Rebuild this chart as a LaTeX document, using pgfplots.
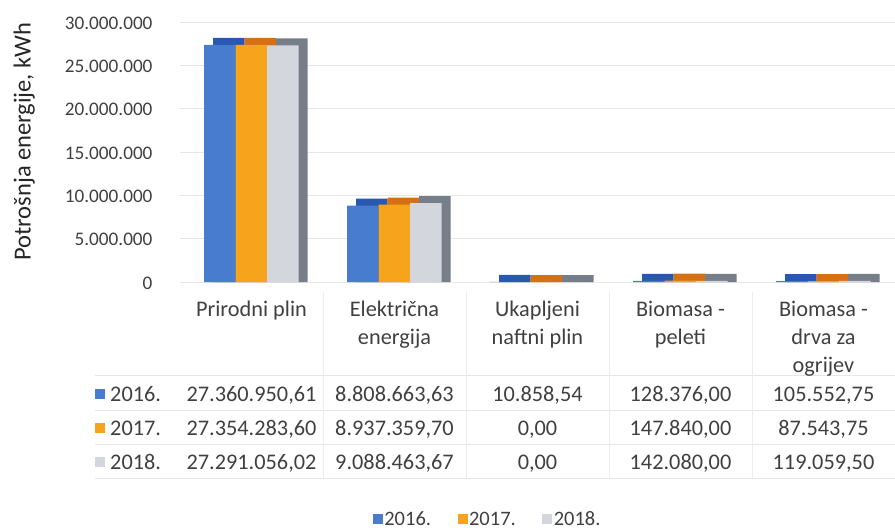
\documentclass[border=0pt]{standalone}
\usepackage{pgfplots}
\pgfplotsset{compat=1.18}
\usepackage{pgfplotstable}
\usepackage{fontspec}
\setmainfont{Carlito}
\definecolor{txt}{RGB}{64,64,64}
\definecolor{c16}{RGB}{72,124,206}
\definecolor{t16}{RGB}{40,88,176}
\definecolor{c17}{RGB}{246,164,28}
\definecolor{t17}{RGB}{214,112,20}
\definecolor{c18}{RGB}{212,214,222}
\definecolor{t18}{RGB}{118,126,138}
\definecolor{gridc}{RGB}{230,230,230}

\pgfplotstableread{
x y16 y17 y18
0 27360950.61 27354283.60 27291056.02
1 8808663.63 8937359.70 9088463.67
2 10858.54 0 0
3 128376.00 147840.00 142080.00
4 105552.75 87543.75 119059.50
}\data

\newcommand{\tf}{\fontsize{22.3}{26}\selectfont\color{txt}}
\begin{document}
\begin{tikzpicture}
\useasboundingbox (-180pt,-248pt) rectangle (715pt,282pt);
\begin{axis}[
  at={(0pt,0pt)}, anchor=south west, scale only axis,
  width=715pt, height=260pt,
  xmin=-0.5, xmax=4.5, ymin=0, ymax=30000000,
  ybar, bar width=31.5pt,
  clip=false,
  scaled y ticks=false,
  axis line style={draw=none},
  tick style={draw=none},
  xtick=\empty,
  ytick={0,5000000,10000000,15000000,20000000,25000000,30000000},
  yticklabels={0,5.000.000,10.000.000,15.000.000,20.000.000,25.000.000,30.000.000},
  yticklabel style={font=\fontsize{19.2}{22}\selectfont\color{txt}, anchor=east, xshift=-24pt, yshift=-1pt},
  ymajorgrids, grid style={gridc, line width=0.6pt},
  ylabel={Potrošnja energije, kWh},
  every axis y label/.style={at={(axis description cs:-0.218,0.54)}, rotate=90, anchor=center, font=\fontsize{24.5}{28}\selectfont\color{black!85}},
  legend style={draw=none, fill=none, at={(axis description cs:0.43,-0.912)}, anchor=center,
    legend columns=3, font=\fontsize{20.5}{24}\selectfont\color{txt},
    nodes={inner sep=1.5pt},
    /tikz/every even column/.append style={column sep=25pt}},
  legend image code/.code={\fill[#1] (0pt,-5pt) rectangle (10pt,5pt);},
]
% depth (back) copies
\addplot[fill=t16, draw=none, bar shift=-31.5pt, xshift=9pt, forget plot] table[x=x, y expr=\thisrow{y16}+807692] {\data};
\addplot[fill=t17, draw=none, bar shift=0pt, xshift=9pt, forget plot] table[x=x, y expr=\thisrow{y17}+807692] {\data};
\addplot[fill=t18, draw=none, bar shift=31.5pt, xshift=9pt, forget plot] table[x=x, y expr=\thisrow{y18}+807692] {\data};
% front faces
\addplot[fill=c16, draw=none, bar shift=-31.5pt] table[x=x, y=y16] {\data};
\addplot[fill=c17, draw=none, bar shift=0pt] table[x=x, y=y17] {\data};
\addplot[fill=c18, draw=none, bar shift=31.5pt] table[x=x, y=y18] {\data};
\legend{2016.,2017.,2018.}

% table grid
\draw[gridc, line width=0.6pt] ([xshift=-85pt,yshift=-93pt]axis cs:-0.5,0) -- ([yshift=-93pt]axis cs:4.5,0);
\draw[gridc, line width=0.6pt] ([xshift=-85pt,yshift=-128pt]axis cs:-0.5,0) -- ([yshift=-128pt]axis cs:4.5,0);
\draw[gridc, line width=0.6pt] ([xshift=-85pt,yshift=-162pt]axis cs:-0.5,0) -- ([yshift=-162pt]axis cs:4.5,0);
\draw[gridc, line width=0.6pt] ([xshift=-85pt,yshift=-196pt]axis cs:-0.5,0) -- ([yshift=-196pt]axis cs:4.5,0);
\draw[gridc!70, line width=0.5pt] ([yshift=-10pt]axis cs:0.5,0) -- ([yshift=-196pt]axis cs:0.5,0);
\draw[gridc!70, line width=0.5pt] ([yshift=-10pt]axis cs:1.5,0) -- ([yshift=-196pt]axis cs:1.5,0);
\draw[gridc!70, line width=0.5pt] ([yshift=-10pt]axis cs:2.5,0) -- ([yshift=-196pt]axis cs:2.5,0);
\draw[gridc!70, line width=0.5pt] ([yshift=-10pt]axis cs:3.5,0) -- ([yshift=-196pt]axis cs:3.5,0);
% category labels
\node[anchor=base, font=\tf] at ([yshift=-34pt]axis cs:0,0) {Prirodni plin};
\node[anchor=base, font=\tf] at ([yshift=-34pt]axis cs:1,0) {Električna};
\node[anchor=base, font=\tf] at ([yshift=-62pt]axis cs:1,0) {energija};
\node[anchor=base, font=\tf] at ([yshift=-34pt]axis cs:2,0) {Ukapljeni};
\node[anchor=base, font=\tf] at ([yshift=-62pt]axis cs:2,0) {naftni plin};
\node[anchor=base, font=\tf] at ([yshift=-34pt]axis cs:3,0) {Biomasa -};
\node[anchor=base, font=\tf] at ([yshift=-62pt]axis cs:3,0) {peleti};
\node[anchor=base, font=\tf] at ([yshift=-34pt]axis cs:4,0) {Biomasa -};
\node[anchor=base, font=\tf] at ([yshift=-62pt]axis cs:4,0) {drva za};
\node[anchor=base, font=\tf] at ([yshift=-90pt]axis cs:4,0) {ogrijev};
% data rows
\node[anchor=base, font=\tf] at ([yshift=-119pt]axis cs:0,0) {27.360.950,61};
\node[anchor=base, font=\tf] at ([yshift=-119pt]axis cs:1,0) {8.808.663,63};
\node[anchor=base, font=\tf] at ([yshift=-119pt]axis cs:2,0) {10.858,54};
\node[anchor=base, font=\tf] at ([yshift=-119pt]axis cs:3,0) {128.376,00};
\node[anchor=base, font=\tf] at ([yshift=-119pt]axis cs:4,0) {105.552,75};
\node[anchor=base, font=\tf] at ([yshift=-153pt]axis cs:0,0) {27.354.283,60};
\node[anchor=base, font=\tf] at ([yshift=-153pt]axis cs:1,0) {8.937.359,70};
\node[anchor=base, font=\tf] at ([yshift=-153pt]axis cs:2,0) {0,00};
\node[anchor=base, font=\tf] at ([yshift=-153pt]axis cs:3,0) {147.840,00};
\node[anchor=base, font=\tf] at ([yshift=-153pt]axis cs:4,0) {87.543,75};
\node[anchor=base, font=\tf] at ([yshift=-187pt]axis cs:0,0) {27.291.056,02};
\node[anchor=base, font=\tf] at ([yshift=-187pt]axis cs:1,0) {9.088.463,67};
\node[anchor=base, font=\tf] at ([yshift=-187pt]axis cs:2,0) {0,00};
\node[anchor=base, font=\tf] at ([yshift=-187pt]axis cs:3,0) {142.080,00};
\node[anchor=base, font=\tf] at ([yshift=-187pt]axis cs:4,0) {119.059,50};
% row headers
\node[anchor=base west, font=\tf, inner sep=0pt] at ([xshift=-70pt,yshift=-119pt]axis cs:-0.5,0) {2016.};
\node[anchor=base west, font=\tf, inner sep=0pt] at ([xshift=-70pt,yshift=-153pt]axis cs:-0.5,0) {2017.};
\node[anchor=base west, font=\tf, inner sep=0pt] at ([xshift=-70pt,yshift=-187pt]axis cs:-0.5,0) {2018.};
\fill[c16] ([xshift=-85pt,yshift=-117pt]axis cs:-0.5,0) rectangle ++(10pt,10pt);
\fill[c17] ([xshift=-85pt,yshift=-151pt]axis cs:-0.5,0) rectangle ++(10pt,10pt);
\fill[c18] ([xshift=-85pt,yshift=-185pt]axis cs:-0.5,0) rectangle ++(10pt,10pt);
\end{axis}
\end{tikzpicture}
\end{document}
